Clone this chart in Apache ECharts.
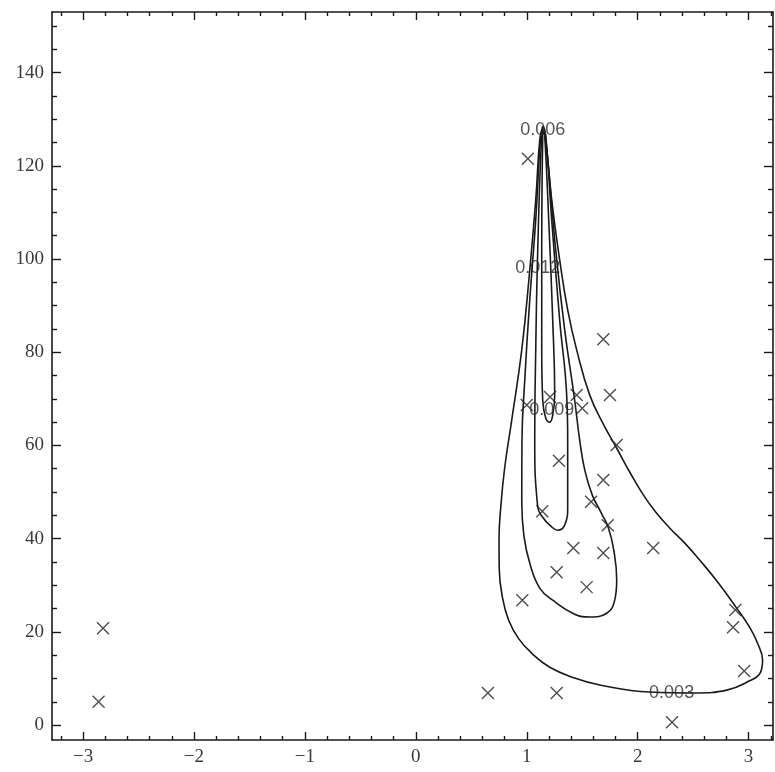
<!DOCTYPE html>
<html><head><meta charset="utf-8">
<script src="https://cdn.jsdelivr.net/npm/echarts@6/dist/echarts.min.js"></script>
<style>html,body{margin:0;padding:0;background:#fff}#c{width:775px;height:772px}</style>
</head><body><div id="c"></div>
<script>
// ---- data ----
const xTicks = [-3, -2, -1, 0, 1, 2, 3];
const yTicks = [0, 20, 40, 60, 80, 100, 120, 140];

const pointsX = [-2.82, -2.86, 1.01, 1.69, 1.75, 1.21, 1.45, 1.00, 1.50, 1.81, 1.29, 1.69, 1.58, 1.14,
  1.73, 1.42, 1.69, 2.14, 1.27, 1.54, 0.96, 2.88, 2.86, 2.96, 2.31, 0.65, 1.27];
const pointsY = [20.8, 5.0, 121.5, 82.8, 70.8, 70.4, 70.8, 68.7, 68.0, 60.1, 56.7, 52.6, 47.9, 45.9,
  42.9, 38.0, 36.9, 38.0, 32.8, 29.6, 26.8, 24.7, 21.0, 11.6, 0.6, 6.9, 6.9];

const contour003 = [[1.144,128.5],[1.162,127.7],[1.225,112.7],[1.297,99.8],[1.369,89.1],[1.450,80.5],
  [1.568,70.8],[1.694,64.4],[1.811,59.4],[1.928,54.3],[2.045,49.6],[2.162,45.7],[2.288,42.3],
  [2.423,39.1],[2.559,35.4],[2.721,30.7],[2.892,25.1],[3.009,21.0],[3.080,17.6],[3.126,13.9],[3.105,11.2],
  [3.009,9.5],[2.802,7.5],[2.532,6.9],[2.108,7.1],[1.658,8.6],[1.432,10.1],[1.207,12.4],
  [1.045,15.4],[0.925,18.6],[0.835,22.6],[0.780,27.5],[0.752,33.5],[0.750,40.0],[0.765,46.5],
  [0.800,55.0],[0.865,65.5],[0.955,80.5],[1.027,97.6],[1.081,112.7],[1.117,125.5],[1.144,128.5]];
const contour006 = [[1.144,127.8],[1.162,126.6],[1.198,119.1],[1.261,101.9],[1.342,84.8],[1.432,69.7],
  [1.477,61.2],[1.523,54.7],[1.590,49.4],[1.670,45.6],[1.735,42.4],[1.785,37.5],[1.811,31.2],
  [1.793,26.8],[1.721,24.0],[1.568,23.2],[1.432,23.8],[1.234,26.8],[1.117,29.4],[1.030,34.5],
  [0.975,40.5],[0.955,48.0],[0.957,61.2],[0.982,74.0],[1.027,91.2],[1.081,108.4],[1.126,126.6],[1.144,127.8]];
const contour009 = [[1.153,127.6],[1.171,126.6],[1.225,108.4],[1.297,86.9],[1.360,70.8],[1.369,61.2],
  [1.369,46.8],[1.342,42.9],[1.279,41.8],[1.207,42.9],[1.144,44.6],[1.099,46.8],[1.072,61.2],
  [1.081,80.5],[1.099,101.9],[1.135,126.6],[1.153,127.6]];
const contour012 = [[1.153,127.4],[1.162,126.6],[1.198,108.4],[1.234,86.9],[1.252,70.8],[1.234,66.5],
  [1.207,65.0],[1.171,65.9],[1.144,69.7],[1.135,80.5],[1.135,101.9],[1.144,126.6],[1.153,127.4]];

const contourLabels = ['0.006', '0.012', '0.009', '0.003'];
const contourLabelX = [1.144, 1.10, 1.225, 2.306];
const contourLabelY = [127.7, 98.1, 67.6, 6.9];

// ---- chart ----
const X_MIN = -3.28, X_MAX = 3.22, Y_MIN = -3.2, Y_MAX = 153;
const xMinor = [], yMinor = [];
for (let i = -16; i <= 16; i++) { if (i % 5 !== 0) xMinor.push(+(i * 0.2).toFixed(1)); }
for (let v = 5; v <= 150; v += 5) { if (v % 20 !== 0) yMinor.push(v); }

const FONT = 'Liberation Serif';
const TXT = '#3a3a3a';
const LINE = '#1a1a1a';
function fmtNum(v) { return v < 0 ? '\u2212' + Math.abs(v) : String(v); }

function xAx(pos, ticks, len, showLine, showLabel) {
  return {
    type: 'value', position: pos, min: X_MIN, max: X_MAX, splitLine: { show: false },
    axisLine: { show: showLine, onZero: false, lineStyle: { color: LINE, width: 1.6 } },
    axisTick: { show: true, inside: true, length: len, customValues: ticks, lineStyle: { color: LINE, width: 1.4 } },
    axisLabel: { show: showLabel, customValues: ticks, formatter: fmtNum, color: TXT,
      fontFamily: FONT, fontSize: 19, margin: 8 }
  };
}
function yAx(pos, ticks, len, showLine, showLabel) {
  return {
    type: 'value', position: pos, min: Y_MIN, max: Y_MAX, splitLine: { show: false },
    axisLine: { show: showLine, onZero: false, lineStyle: { color: LINE, width: 1.6 } },
    axisTick: { show: true, inside: true, length: len, customValues: ticks, lineStyle: { color: LINE, width: 1.4 } },
    axisLabel: { show: showLabel, customValues: ticks, formatter: fmtNum, color: TXT,
      fontFamily: FONT, fontSize: 19, margin: 8 }
  };
}

const lineSeries = (data) => ({
  type: 'line', data: data, xAxisIndex: 0, yAxisIndex: 0, showSymbol: false, symbol: 'none',
  smooth: 0.45, lineStyle: { color: LINE, width: 1.6 }, z: 2, silent: true
});

const option = {
  animation: false,
  backgroundColor: '#fff',
  grid: { left: 52, top: 12, right: 2, bottom: 32, containLabel: false },
  xAxis: [
    xAx('bottom', xTicks, 8, true, true),
    xAx('bottom', xMinor, 4, false, false),
    xAx('top', xTicks, 8, true, false),
    xAx('top', xMinor, 4, false, false)
  ],
  yAxis: [
    yAx('left', yTicks, 9, true, true),
    yAx('left', yMinor, 5, false, false),
    yAx('right', yTicks, 9, true, false),
    yAx('right', yMinor, 5, false, false)
  ],
  series: [
    lineSeries(contour003),
    lineSeries(contour006),
    lineSeries(contour009),
    lineSeries(contour012),
    {
      type: 'scatter', xAxisIndex: 0, yAxisIndex: 0, z: 3,
      data: pointsX.map((x, i) => [x, pointsY[i]]),
      symbol: 'path://M0,0L10,10M10,0L0,10', symbolSize: 12,
      itemStyle: { color: 'rgba(0,0,0,0)', borderColor: '#222', borderWidth: 1.4 }
    },
    {
      type: 'scatter', xAxisIndex: 0, yAxisIndex: 0, z: 4, symbolSize: 1,
      itemStyle: { color: 'rgba(0,0,0,0)' },
      data: contourLabels.map((t, i) => ({ name: t, value: [contourLabelX[i], contourLabelY[i]] })),
      label: { show: true, position: 'inside', formatter: '{b}', color: '#2a2a2a',
        fontFamily: 'Liberation Sans', fontSize: 18 }
    }
  ]
};

const chart = echarts.init(document.getElementById('c'), null, { renderer: 'canvas' });
chart.setOption(option);
</script>
</body></html>
